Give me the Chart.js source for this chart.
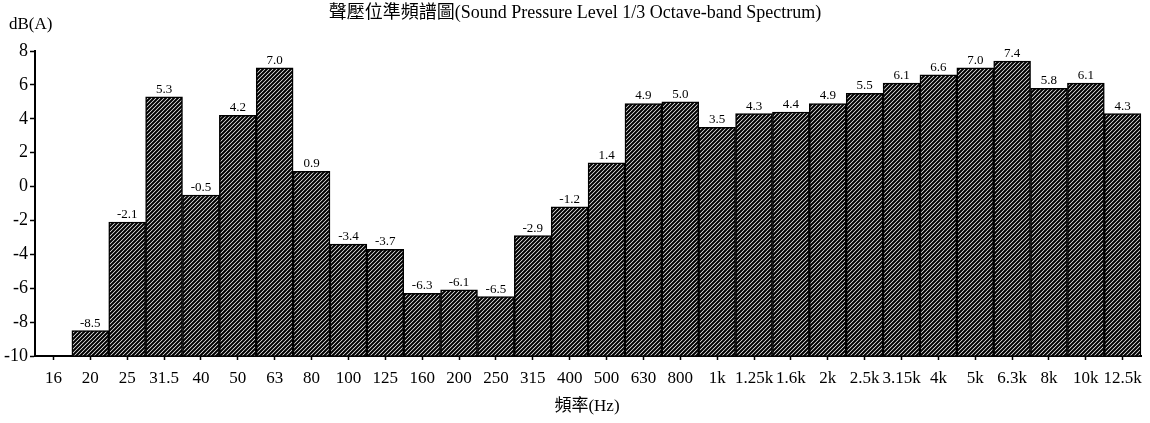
<!DOCTYPE html>
<html>
<head>
<meta charset="utf-8">
<script src="https://cdn.jsdelivr.net/npm/chart.js@4/dist/chart.umd.min.js"></script>
<style>
  body { margin: 0; background: #fff; }
  #wrap { width: 1150px; height: 423px; }
</style>
</head>
<body>
<div id="wrap"><canvas id="grafico"></canvas></div>
<script>
// Dados
const frequencias = ['16', '20', '25', '31.5', '40', '50', '63', '80', '100', '125', '160', '200', '250', '315', '400', '500', '630', '800', '1k', '1.25k', '1.6k', '2k', '2.5k', '3.15k', '4k', '5k', '6.3k', '8k', '10k', '12.5k'];
const niveis = [null, -8.5, -2.1, 5.3, -0.5, 4.2, 7.0, 0.9, -3.4, -3.7, -6.3, -6.1, -6.5, -2.9, -1.2, 1.4, 4.9, 5.0, 3.5, 4.3, 4.4, 4.9, 5.5, 6.1, 6.6, 7.0, 7.4, 5.8, 6.1, 4.3];
const eixoY = { min: -10, max: 8 };
const titulo = '聲壓位準頻譜圖(Sound Pressure Level 1/3 Octave-band Spectrum)';
const unidade = 'dB(A)';
const tituloX = '頻率(Hz)';

const fonteSerif = "'Liberation Serif', 'Noto Sans CJK TC', serif";

// Hachura diagonal
const criarHachura = () => {
    const c = document.createElement('canvas');
    c.width = 4; c.height = 4;
    const g = c.getContext('2d');
    g.fillStyle = '#fff';
    g.fillRect(0, 0, 4, 4);
    g.strokeStyle = '#000';
    g.lineWidth = 2.1;
    g.beginPath();
    g.moveTo(-1, 5); g.lineTo(5, -1);
    g.moveTo(-1, 1); g.lineTo(1, -1);
    g.moveTo(3, 5); g.lineTo(5, 3);
    g.stroke();
    return g.createPattern(c, 'repeat');
};

// Textos extras e rótulos das barras
const textosPlugin = {
    id: 'textos',
    afterDatasetsDraw(chart) {
        const ctx = chart.ctx;
        const meta = chart.getDatasetMeta(0);
        ctx.save();
        ctx.fillStyle = '#000';
        ctx.textAlign = 'center';
        ctx.textBaseline = 'bottom';
        ctx.font = '13px ' + fonteSerif;
        meta.data.forEach((bar, i) => {
            if (niveis[i] == null) return;
            ctx.fillText(niveis[i].toFixed(1), bar.x, bar.y - 1);
        });
        ctx.restore();
    },
    afterDraw(chart) {
        const ctx = chart.ctx;
        ctx.save();
        ctx.fillStyle = '#000';
        ctx.textBaseline = 'middle';
        ctx.textAlign = 'center';
        ctx.font = '18px ' + fonteSerif;
        ctx.fillText(titulo, 575, 13);
        ctx.textAlign = 'left';
        ctx.font = '17px ' + fonteSerif;
        ctx.fillText(unidade, 9, 25);
        ctx.textAlign = 'center';
        ctx.font = '17px ' + fonteSerif;
        ctx.fillText(tituloX, 587, 407);
        ctx.restore();
    }
};

new Chart(document.getElementById('grafico'), {
    type: 'bar',
    data: {
        labels: frequencias,
        datasets: [{
            data: niveis,
            base: eixoY.min,
            backgroundColor: criarHachura(),
            borderColor: '#000',
            borderWidth: 1.5,
            barPercentage: 1,
            categoryPercentage: 1
        }]
    },
    options: {
        responsive: true,
        maintainAspectRatio: false,
        animation: false,
        layout: { padding: { top: 51, left: 0, right: 8, bottom: 0 } },
        plugins: { legend: { display: false }, tooltip: { enabled: false } },
        scales: {
            x: {
                afterFit: (s) => { s.height = 67; },
                grid: { display: true, drawOnChartArea: false, offset: false, tickLength: 4, tickColor: '#000', tickWidth: 1.5 },
                border: { color: '#000', width: 2 },
                ticks: { color: '#000', padding: 8, maxRotation: 0, autoSkip: false, font: { family: fonteSerif, size: 17 } }
            },
            y: {
                min: eixoY.min,
                max: eixoY.max,
                afterFit: (s) => { s.width = 35; },
                grid: { display: true, drawOnChartArea: false, tickLength: 5, tickColor: '#000', tickWidth: 1.5 },
                border: { color: '#000', width: 2 },
                ticks: {
                    stepSize: 1,
                    color: '#000',
                    padding: 2,
                    font: { family: fonteSerif, size: 18 },
                    callback: (v) => (v % 2 === 0 ? v : '')
                }
            }
        }
    },
    plugins: [textosPlugin]
});
</script>
</body>
</html>
